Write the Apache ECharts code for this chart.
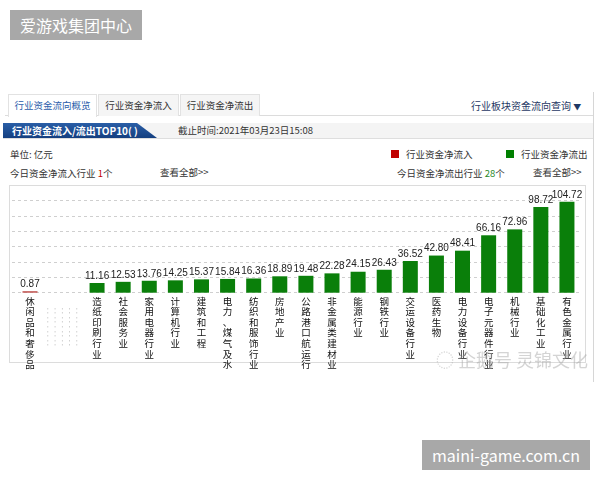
<!DOCTYPE html>
<html>
<head>
<meta charset="utf-8">
<script src="https://cdn.jsdelivr.net/npm/echarts@6/dist/echarts.min.js"></script>
<style>
  body { margin: 0; width: 600px; height: 480px; background: #fff; position: relative; overflow: hidden;
         font-family: "Noto Sans CJK SC", "Noto Sans", sans-serif; color: #333; }
  .abs { position: absolute; white-space: nowrap; }
  .stamp { background: #a8a8a8; color: #fff; font-size: 16px; line-height: 30px; text-align: center; }
  .tabbar { left: 5px; top: 93px; width: 588px; height: 22px; border-bottom: 1px solid #dcdcdc; }
  .tab { top: 94px; height: 21px; line-height: 21px; font-size: 9.5px; text-align: center;
         border: 1px solid #e2e2e2; border-bottom: none; background: #f5f5f5; color: #333; }
  .tab.on { background: #fff; color: #2a5caa; height: 22px; }
  .strip { left: 3px; top: 123px; width: 590px; height: 15px; background: #f4f4f4; border-bottom: 1px solid #dedede; }
  .badge { left: 3px; top: 123px; width: 154px; height: 15px; color: #fff; font-weight: bold; font-size: 10px;
           line-height: 15px; padding-left: 9px; box-sizing: border-box;
           background: linear-gradient(#2a5ea6, #143f80);
           clip-path: polygon(0 0, 134px 0, 154px 15px, 0 15px); }
  .small { font-size: 9.5px; line-height: 12px; color: #333; }
  .sq { width: 8px; height: 8px; }
  .box { left: 9px; top: 185px; width: 575px; height: 176px; border: 1px solid #dcdcdc; }
  #chart { position: absolute; left: 0; top: 180px; width: 600px; height: 200px; }
  .edge { left: 593px; top: 92px; width: 1px; height: 290px; background: #d6d6d6; }
  .wm { left: 436px; top: 346px; font-size: 18px; color: rgba(160,160,160,0.45); }
</style>
</head>
<body>
<div class="abs stamp" style="left:10px;top:10px;width:132px;height:30px;">爱游戏集团中心</div>

<div class="abs tabbar"></div>
<div class="abs tab on" style="left:8px;width:87px;">行业资金流向概览</div>
<div class="abs tab" style="left:98px;width:79px;">行业资金净流入</div>
<div class="abs tab" style="left:180px;width:78px;">行业资金净流出</div>
<div class="abs small" style="left:471px;top:100px;color:#1f3864;font-size:10px;">行业板块资金流向查询 <span style="font-size:8px;">▼</span></div>

<div class="abs strip"></div>
<div class="abs badge">行业资金流入/流出TOP10( )</div>
<div class="abs small" style="left:178px;top:124px;">截止时间:2021年03月23日15:08</div>

<div class="abs small" style="left:10px;top:148px;">单位: 亿元</div>
<div class="abs sq" style="left:391px;top:150px;background:#c00000;"></div>
<div class="abs small" style="left:406px;top:148px;">行业资金净流入</div>
<div class="abs sq" style="left:506px;top:150px;background:#008000;"></div>
<div class="abs small" style="left:521px;top:148px;">行业资金净流出</div>

<div class="abs small" style="left:10px;top:167px;">今日资金净流入行业 <span style="color:#c00000;">1</span>个</div>
<div class="abs small" style="left:160px;top:166px;">查看全部&gt;&gt;</div>
<div class="abs small" style="left:397px;top:167px;">今日资金净流出行业 <span style="color:#2a8a2a;">28</span>个</div>
<div class="abs small" style="left:533px;top:166px;">查看全部&gt;&gt;</div>

<div class="abs box"></div>
<div class="abs edge"></div>
<div id="chart"></div>
<div class="abs wm">◌ 企鹅号 灵锦文化</div>

<div class="abs stamp" style="left:422px;top:440px;width:168px;height:30px;">maini-game.com.cn</div>

<script>
// 净流入（只有一个行业）
const inflowNames = ["休闲品和奢侈品"];
const inflowValues = [0.87];

// 净流出 TOP
const outflowNames = [
  "造纸印刷行业", "社会服务业", "家用电器行业", "计算机行业", "建筑和工程",
  "电力、煤气及水", "纺织和服饰行业", "房地产业", "公路港口航运行", "非金属类建材业",
  "能源行业", "钢铁行业", "交运设备行业", "医药生物", "电力设备行业",
  "电子元器件行业", "机械行业", "基础化工业", "有色金属行业",
];
const outflowValues = [
  11.16, 12.53, 13.76, 14.25, 15.37, 15.84, 16.36, 18.89, 19.48, 22.28,
  24.15, 26.43, 36.52, 42.8, 48.41, 66.16, 72.96, 98.72, 104.72,
];

const yMax = 106;
const yStep = yMax / 6;

const chart = echarts.init(document.getElementById("chart"));

const vertical = (name) => name.split("").join("\n");

const yAxisBase = {
  type: "value",
  min: 0,
  max: yMax,
  interval: yStep,
  axisLabel: { show: false },
  axisLine: { show: false },
  axisTick: { show: false },
  splitLine: { lineStyle: { color: "#cfcfcf", type: [3, 3], width: 1 } },
};

const xAxisBase = {
  type: "category",
  axisLine: { show: false },
  axisTick: { show: false },
  axisLabel: {
    interval: 0,
    margin: 3,
    color: "#111",
    fontSize: 9.5,
    lineHeight: 10.6,
    verticalAlign: "top",
    fontFamily: "Noto Sans CJK SC",
    formatter: (v) => vertical(v),
  },
};

const valueLabel = {
  show: true,
  position: "top",
  distance: 2,
  color: "#222",
  fontSize: 10,
  fontFamily: "Liberation Sans",
  formatter: (p) => Number(p.value).toFixed(2),
};

// 空位上的点阵
const dots = Array(9).fill("· · · · ·").join("\n");

chart.setOption({
  animation: false,
  grid: [
    { left: 12, top: 20.7, width: 72, height: 92 },
    { left: 84, top: 20.7, width: 496, height: 92 },
  ],
  xAxis: [
    { ...xAxisBase, gridIndex: 0, data: [...inflowNames, ""] },
    { ...xAxisBase, gridIndex: 1, data: outflowNames },
  ],
  yAxis: [
    { ...yAxisBase, gridIndex: 0 },
    { ...yAxisBase, gridIndex: 1 },
  ],
  graphic: [
    {
      type: "text",
      left: 46,
      top: 126,
      style: {
        text: dots,
        fill: "#8a8a8a",
        font: "6px 'DejaVu Sans Mono'",
        lineHeight: 4.6,
      },
    },
  ],
  series: [
    {
      type: "bar",
      xAxisIndex: 0,
      yAxisIndex: 0,
      data: [...inflowValues, "-"],
      barWidth: 15,
      barMinHeight: 1.5,
      itemStyle: { color: "#c0504d" },
      label: valueLabel,
    },
    {
      type: "bar",
      xAxisIndex: 1,
      yAxisIndex: 1,
      data: outflowValues,
      barWidth: 15,
      itemStyle: { color: "#0a7f0a" },
      label: valueLabel,
    },
  ],
});
</script>
</body>
</html>
